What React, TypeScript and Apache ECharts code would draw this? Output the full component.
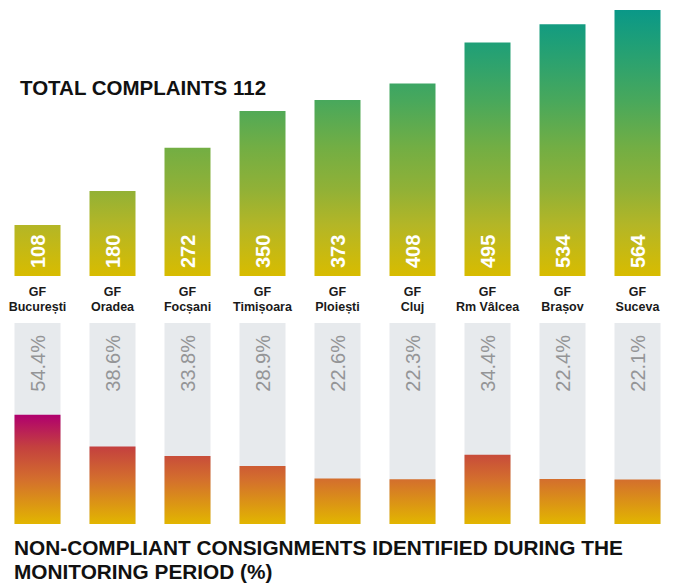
import React, { useEffect, useRef } from "react";
import * as echarts from "echarts";

const CITIES = ["București", "Oradea", "Focșani", "Timișoara", "Ploiești", "Cluj", "Rm Vâlcea", "Brașov", "Suceva"];
const COMPLAINTS = [108, 180, 272, 350, 373, 408, 495, 534, 564];
const NON_COMPLIANT_PCT = [54.4, 38.6, 33.8, 28.9, 22.6, 22.3, 34.4, 22.4, 22.1];
const FULL_SCALE = 100;
const TITLE_TOP = "TOTAL COMPLAINTS 112";
const TITLE_BOTTOM = "NON-COMPLIANT CONSIGNMENTS IDENTIFIED DURING THE\nMONITORING PERIOD (%)";

const FONT = '"Liberation Sans", Arial, Helvetica, sans-serif';

export default function App() {
  const ref = useRef<HTMLDivElement>(null);
  useEffect(() => {
    if (!ref.current) return;
    const chart = echarts.init(ref.current, null, { renderer: "svg" });
    const topGrad = new echarts.graphic.LinearGradient(0, 10, 0, 276, [
      { offset: 0, color: "#0a9888" },
      { offset: 0.12, color: "#1e9f78" },
      { offset: 0.34, color: "#48a85c" },
      { offset: 0.515, color: "#72ae44" },
      { offset: 0.68, color: "#92b136" },
      { offset: 0.81, color: "#b4b626" },
      { offset: 1, color: "#d8bc00" },
    ], true);
    const botGrad = new echarts.graphic.LinearGradient(0, 415, 0, 524, [
      { offset: 0, color: "#b0006e" },
      { offset: 0.29, color: "#c4403f" },
      { offset: 0.6, color: "#d4702c" },
      { offset: 1, color: "#e2b600" },
    ], true);
    chart.setOption({
      animation: false,
      backgroundColor: "#ffffff",
      textStyle: { fontFamily: FONT },
      title: [
        {
          text: TITLE_TOP,
          left: 15,
          top: 72,
          textStyle: { fontFamily: FONT, fontSize: 20.5, fontWeight: "bold", color: "#111111" },
        },
        {
          text: TITLE_BOTTOM,
          left: 9,
          top: 530,
          textStyle: { fontFamily: FONT, fontSize: 20.8, fontWeight: "bold", color: "#111111", lineHeight: 24 },
        },
      ],
      grid: [
        { left: -1, width: 679.5, top: 10, height: 266 },
        { left: -1, width: 679.5, top: 323, height: 201 },
      ],
      xAxis: [
        {
          type: "category",
          gridIndex: 0,
          data: CITIES,
          axisLine: { show: false },
          axisTick: { show: false },
          axisLabel: {
            interval: 0,
            margin: 8,
            formatter: (v: string) => "GF\n" + v,
            fontFamily: FONT,
            fontSize: 12.5,
            fontWeight: "bold",
            color: "#1a1a1a",
            lineHeight: 15,
          },
        },
        {
          type: "category",
          gridIndex: 1,
          data: CITIES,
          show: false,
        },
      ],
      yAxis: [
        { type: "value", gridIndex: 0, min: 0, max: "dataMax", show: false },
        { type: "value", gridIndex: 1, min: 0, max: FULL_SCALE, show: false },
      ],
      series: [
        {
          type: "bar",
          xAxisIndex: 0,
          yAxisIndex: 0,
          data: COMPLAINTS,
          barWidth: 46,
          itemStyle: { color: topGrad },
          label: {
            show: true,
            position: "insideBottom",
            rotate: 90,
            align: "left",
            verticalAlign: "middle",
            distance: 8,
            color: "#ffffff",
            fontFamily: FONT,
            fontSize: 20,
            fontWeight: "bold",
          },
        },
        {
          type: "bar",
          xAxisIndex: 1,
          yAxisIndex: 1,
          data: CITIES.map(() => FULL_SCALE),
          barWidth: 46,
          itemStyle: { color: "#e7eaed" },
          label: {
            show: true,
            position: "insideTop",
            rotate: 90,
            align: "right",
            verticalAlign: "middle",
            distance: 12,
            color: "#949597",
            fontFamily: FONT,
            fontSize: 20,
            formatter: (p: any) => NON_COMPLIANT_PCT[p.dataIndex].toFixed(1) + "%",
          },
          z: 1,
        },
        {
          type: "bar",
          xAxisIndex: 1,
          yAxisIndex: 1,
          data: NON_COMPLIANT_PCT,
          barWidth: 46,
          barGap: "-100%",
          itemStyle: { color: botGrad },
          z: 2,
        },
      ],
    });
    return () => chart.dispose();
  }, []);
  return (
    <div
      ref={ref}
      style={{ position: "fixed", left: 0, top: 0, width: 675, height: 587 }}
    />
  );
}
